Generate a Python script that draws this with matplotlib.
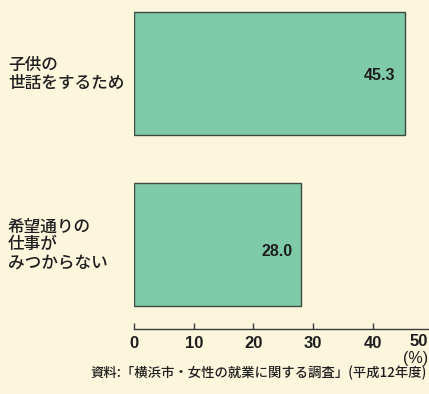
import matplotlib

matplotlib.use("Agg")
import matplotlib.pyplot as plt

plt.rcParams["font.family"] = ["Noto Sans CJK JP", "DejaVu Sans"]

categories = ["子供の\n世話をするため", "希望通りの\n仕事が\nみつからない"]
values = [45.3, 28.0]
tick_values = [0, 10, 20, 30, 40]
source = "資料:「横浜市・女性の就業に関する調査」(平成12年度)"

BG = "#fcf6dd"
BAR = "#7ecaa9"
EDGE = "#3d4a3f"
INK = "#1e1e1e"

W, H = 429, 394
fig = plt.figure(figsize=(W / 100, H / 100), dpi=100, facecolor=BG)
# axes from the zero tick (x=134) to the right edge, bottom spine at y=329
ax = fig.add_axes([134 / W, (H - 329) / H, (W - 134) / W, 329 / H])
ax.set_facecolor(BG)

positions = range(len(values))
ax.barh(positions, values, height=0.72, color=BAR, edgecolor=EDGE, linewidth=1.0)
ax.set_xlim(0, 49.4)
ax.set_ylim(1.494, -0.43)

for pos, val in zip(positions, values):
    ax.text(val - 1.5, pos + (0.04 if pos else 0.01), f"{val:.1f}", ha="right", va="center",
            fontsize=11.5, color=INK, family="Liberation Sans", weight="bold")

for pos, label in zip(positions, categories):
    fig.text(8 / W, 1 - (73.5 + 171 * pos) / H, label, ha="left", va="center",
             fontsize=12, color=INK, linespacing=1.0, weight="medium")

for side in ("top", "right", "left"):
    ax.spines[side].set_visible(False)
ax.spines["bottom"].set_color("#3a3a3a")
ax.spines["bottom"].set_linewidth(1.0)
ax.set_yticks([])
ax.set_xticks(tick_values)
ax.set_xticklabels([str(t) for t in tick_values], family="Liberation Sans", fontsize=12,
                   color=INK, weight="bold")
ax.tick_params(axis="x", direction="in", length=4, width=1, color="#3a3a3a", pad=5)

fig.text(428 / W, 1 - 342 / H, "50", ha="right", va="center", fontsize=12, color=INK,
         family="Liberation Sans", weight="bold")
fig.text(428 / W, 1 - 358 / H, "(%)", ha="right", va="center", fontsize=11.5, color=INK,
         family="Liberation Sans")
fig.text(427 / W, 1 - 373 / H, source, ha="right", va="center", fontsize=9.6, color=INK,
         weight="medium")

fig.savefig("out.png", dpi=100, facecolor=BG)
